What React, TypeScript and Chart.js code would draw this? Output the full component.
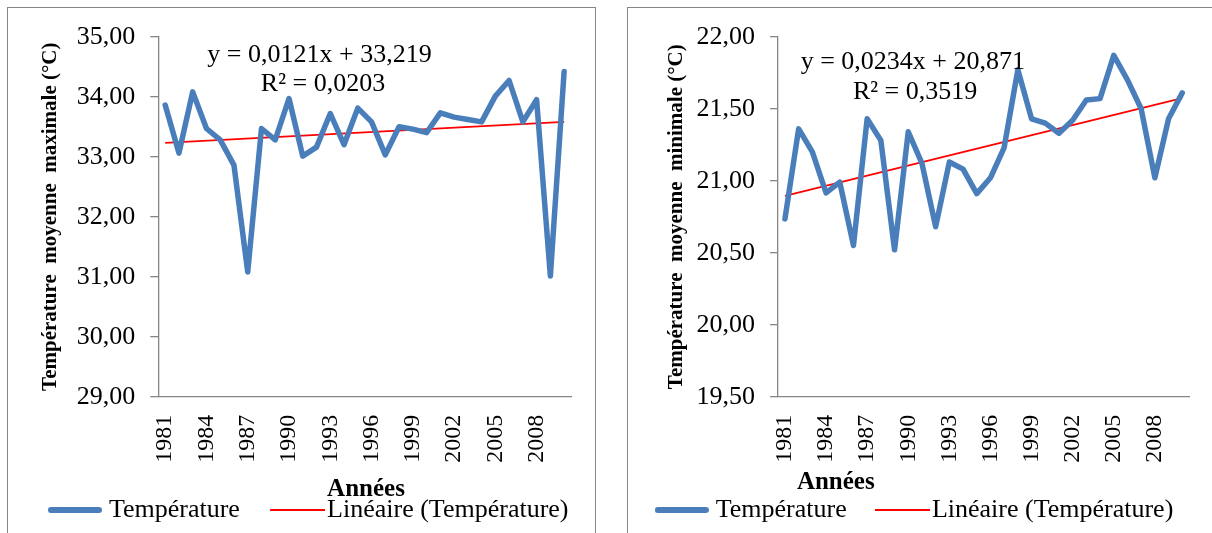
import React, { useEffect, useRef } from 'react';
import { Chart, registerables } from 'chart.js';

Chart.register(...registerables);

// ---------- data ----------
const years = [
  '1981', '1982', '1983', '1984', '1985', '1986', '1987', '1988', '1989', '1990',
  '1991', '1992', '1993', '1994', '1995', '1996', '1997', '1998', '1999', '2000',
  '2001', '2002', '2003', '2004', '2005', '2006', '2007', '2008', '2009', '2010',
];

const tempMax = [
  33.86, 33.06, 34.08, 33.47, 33.28, 32.86, 31.08, 33.47, 33.28, 33.97,
  33.01, 33.16, 33.72, 33.2, 33.81, 33.58, 33.03, 33.5, 33.46, 33.4,
  33.73, 33.66, 33.62, 33.58, 34.01, 34.27, 33.58, 33.95, 31.01, 34.42,
];

const tempMin = [
  20.735, 21.36, 21.2, 20.915, 20.99, 20.55, 21.43, 21.28, 20.52, 21.34,
  21.12, 20.68, 21.13, 21.08, 20.91, 21.02, 21.23, 21.77, 21.43, 21.4,
  21.33, 21.42, 21.56, 21.57, 21.87, 21.7, 21.5, 21.02, 21.43, 21.61,
];

const trendYears = ['1981', '2010'];
const trendMax = [33.231, 33.582];
const trendMin = [20.894, 21.573];

const legendLabels = ['Température', 'Linéaire (Température)'];
const eqMax = ['y = 0,0121x + 33,219', 'R² = 0,0203'];
const eqMin = ['y = 0,0234x + 20,871', 'R² = 0,3519'];
const yTitleMax = 'Température  moyenne  maximale (°C)';
const yTitleMin = 'Température  moyenne  minimale (°C)';
const xTitle = 'Années';

// ---------- styles ----------
const SERIF = '"Liberation Serif", "Times New Roman", serif';
const BLUE = '#4a7ebb';
const RED = '#ff0000';
const AXIS = '#868686';

type TextItem = { text: string; dx: number; dy: number; font: string };

function textPlugin(items: TextItem[]) {
  return {
    id: 'extraText',
    afterDraw(chart: any) {
      const { ctx, chartArea } = chart;
      items.forEach((it) => {
        ctx.save();
        ctx.font = it.font;
        ctx.fillStyle = '#000';
        ctx.textAlign = 'center';
        ctx.textBaseline = 'middle';
        ctx.fillText(it.text, chartArea.left + it.dx, chartArea.top + it.dy);
        ctx.restore();
      });
    },
  };
}

// legend swatch drawn as a small line image (used as the legend point style)
function lineImage(w: number, h: number, x0: number, x1: number, lw: number, color: string, cap: CanvasLineCap) {
  const c = document.createElement('canvas');
  c.width = w;
  c.height = h;
  const g = c.getContext('2d')!;
  g.strokeStyle = color;
  g.lineWidth = lw;
  g.lineCap = cap;
  g.beginPath();
  g.moveTo(x0, h / 2);
  g.lineTo(x1, h / 2);
  g.stroke();
  return c;
}

type Params = {
  values: number[];
  trend: number[];
  yMin: number;
  yMax: number;
  yStep: number;
  yTitle: string;
  titlePadTop: number;
  yAxisWidth: number;
  rightWidth: number;
  padRight: number;
  legendPad: number;
  xAxisHeight: number;
  texts: TextItem[];
};

function buildConfig(p: Params): any {
  const blueSwatch = lineImage(54, 8, 3, 51, 6, BLUE, 'round');
  const redSwatch = lineImage(64, 4, 9, 64, 2, RED, 'butt');
  return {
    type: 'line',
    data: {
      labels: years,
      datasets: [
        {
          label: legendLabels[0],
          data: p.values,
          borderColor: BLUE,
          backgroundColor: BLUE,
          borderWidth: 5.5,
          pointRadius: 0,
          tension: 0,
          borderJoinStyle: 'round',
          borderCapStyle: 'round',
        },
        {
          label: legendLabels[1],
          data: trendYears.map((x, i) => ({ x, y: p.trend[i] })),
          borderColor: RED,
          backgroundColor: RED,
          borderWidth: 1.8,
          pointRadius: 0,
          tension: 0,
        },
      ],
    },
    options: {
      animation: false,
      responsive: false,
      maintainAspectRatio: false,
      events: [],
      layout: { padding: { top: 36.7, left: 0, right: p.padRight, bottom: 0 } },
      plugins: {
        tooltip: { enabled: false },
        legend: {
          position: 'bottom',
          labels: {
            usePointStyle: true,
            pointStyleWidth: 42,
            padding: p.legendPad,
            color: '#000',
            font: { family: SERIF, size: 26 },
            generateLabels: () => [
              {
                text: legendLabels[0],
                fillStyle: BLUE,
                strokeStyle: BLUE,
                fontColor: '#000',
                lineWidth: 0,
                pointStyle: blueSwatch,
                hidden: false,
                datasetIndex: 0,
              },
              {
                text: legendLabels[1],
                fillStyle: RED,
                strokeStyle: RED,
                fontColor: '#000',
                lineWidth: 0,
                pointStyle: redSwatch,
                hidden: false,
                datasetIndex: 1,
              },
            ],
          },
        },
      },
      scales: {
        x: {
          type: 'category',
          offset: true,
          grid: { display: false, drawTicks: false },
          border: { display: true, color: AXIS, width: 1.3 },
          ticks: {
            autoSkip: false,
            maxRotation: 90,
            minRotation: 90,
            padding: 18,
            color: '#000',
            font: { family: SERIF, size: 24 },
            callback: (_v: any, i: number) => (i % 3 === 0 ? years[i] : ''),
          },
          afterFit: (s: any) => {
            s.height = p.xAxisHeight;
          },
        },
        y: {
          min: p.yMin,
          max: p.yMax,
          grid: { drawOnChartArea: false, drawTicks: true, tickLength: 8, color: AXIS, lineWidth: 1.3 },
          border: { display: true, color: AXIS, width: 1.3 },
          ticks: {
            stepSize: p.yStep,
            padding: 15,
            color: '#000',
            font: { family: SERIF, size: 26 },
            callback: (v: any) => Number(v).toFixed(2).replace('.', ','),
          },
          title: {
            display: true,
            text: p.yTitle,
            color: '#000',
            font: { family: SERIF, size: 21, weight: 'bold' },
            padding: { top: p.titlePadTop, bottom: 0 },
          },
          afterFit: (s: any) => {
            s.width = p.yAxisWidth;
          },
        },
        yR: {
          position: 'right',
          display: true,
          grid: { display: false },
          border: { display: false },
          ticks: { display: false },
          afterFit: (s: any) => {
            s.width = p.rightWidth;
          },
        },
      },
    },
    plugins: [textPlugin(p.texts)],
  };
}

const EQ_FONT = `26px ${SERIF}`;
const XT_FONT = `bold 25px ${SERIF}`;

const leftParams: Params = {
  values: tempMax,
  trend: trendMax,
  yMin: 29,
  yMax: 35,
  yStep: 1,
  yTitle: yTitleMax,
  titlePadTop: 38.2,
  yAxisWidth: 158.3,
  rightWidth: 51.4,
  padRight: 7.6,
  legendPad: 32.2,
  xAxisHeight: 68.1,
  texts: [
    { text: eqMax[0], dx: 161.2, dy: 18.3, font: EQ_FONT },
    { text: eqMax[1], dx: 164.7, dy: 47.3, font: EQ_FONT },
    { text: xTitle, dx: 207.7, dy: 453.3, font: XT_FONT },
  ],
};

const rightParams: Params = {
  values: tempMin,
  trend: trendMin,
  yMin: 19.5,
  yMax: 22,
  yStep: 0.5,
  yTitle: yTitleMin,
  titlePadTop: 51.7,
  yAxisWidth: 166.1,
  rightWidth: 32.9,
  padRight: 10,
  legendPad: 30.2,
  xAxisHeight: 70.1,
  texts: [
    { text: eqMin[0], dx: 134.7, dy: 25, font: EQ_FONT },
    { text: eqMin[1], dx: 137, dy: 55, font: EQ_FONT },
    { text: xTitle, dx: 57.7, dy: 446.3, font: XT_FONT },
  ],
};

function ChartCanvas({ params, left, width }: { params: Params; left: number; width: number }) {
  const ref = useRef<HTMLCanvasElement | null>(null);
  useEffect(() => {
    if (!ref.current) return;
    const chart = new Chart(ref.current, buildConfig(params));
    return () => chart.destroy();
  }, []);
  return (
    <canvas
      ref={ref}
      width={width}
      height={533}
      style={{ position: 'fixed', left, top: 0, width, height: 533 }}
    />
  );
}

export default function App() {
  return (
    <div>
      <div
        style={{
          position: 'fixed',
          left: 7,
          top: 7,
          width: 589,
          height: 600,
          border: `1px solid ${AXIS}`,
          boxSizing: 'border-box',
          background: '#fff',
        }}
      />
      <div
        style={{
          position: 'fixed',
          left: 627,
          top: 7,
          width: 700,
          height: 600,
          border: `1px solid ${AXIS}`,
          boxSizing: 'border-box',
          background: '#fff',
        }}
      />
      <ChartCanvas params={leftParams} left={0} width={630} />
      <ChartCanvas params={rightParams} left={612.2} width={620} />
    </div>
  );
}
